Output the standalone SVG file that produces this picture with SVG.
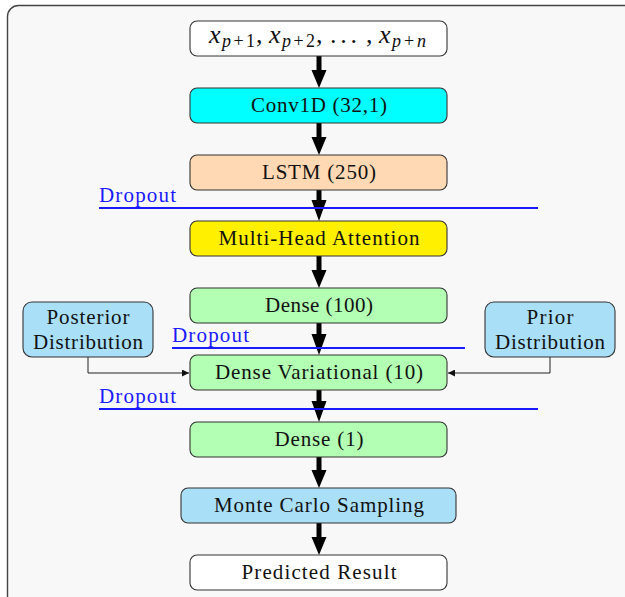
<svg xmlns="http://www.w3.org/2000/svg" width="625" height="597" viewBox="0 0 625 597">
<defs>
<style>
.node{stroke:#333;stroke-width:1.1}
.t{font-family:"Liberation Serif","Times New Roman",serif;font-size:21px;fill:#111;text-anchor:middle}
.m{font-family:"Liberation Serif","Times New Roman",serif;font-size:26px;fill:#111}
.mi{font-style:italic}
.s{font-size:18px}
.drop{font-family:"Liberation Serif","Times New Roman",serif;font-size:21px;fill:#1a1aff}
.dl{stroke:#1a1aff;stroke-width:1.8;fill:none}
.shaft{stroke:#000;stroke-width:5;fill:none}
.head{fill:#000}
.thin{stroke:#222;stroke-width:1;fill:none}
</style>
<marker id="sm" viewBox="0 0 10 10" refX="10" refY="5" markerWidth="8" markerHeight="7" markerUnits="userSpaceOnUse" orient="auto">
<path d="M0,0 L10,5 L0,10 Z" fill="#111"/>
</marker>
</defs>
<rect x="7.5" y="5.5" width="660" height="660" rx="11" fill="#f8f8f8" stroke="#444" stroke-width="1.4"/>

<g id="connectors">
<g id="arrows">
<path class="shaft" d="M319,56 V72"/><path class="head" d="M311.5,70 L326.5,70 L319,88 Z"/>
<path class="shaft" d="M319,123 V139"/><path class="head" d="M311.5,137 L326.5,137 L319,155 Z"/>
<path class="shaft" d="M319,190 V203"/><path class="head" d="M311.5,200 L326.5,200 L319,221 Z"/>
<path class="shaft" d="M319,256 V272"/><path class="head" d="M311.5,270 L326.5,270 L319,288 Z"/>
<path class="shaft" d="M319,323 V336"/><path class="head" d="M311.5,334 L326.5,334 L319,355 Z"/>
<path class="shaft" d="M319,390 V403"/><path class="head" d="M311.5,401 L326.5,401 L319,422 Z"/>
<path class="shaft" d="M319,457 V472"/><path class="head" d="M311.5,470 L326.5,470 L319,488 Z"/>
<path class="shaft" d="M319,523 V539"/><path class="head" d="M311.5,537 L326.5,537 L319,555 Z"/>
</g>
<path class="thin" d="M88,357 V373 H189" marker-end="url(#sm)"/>
<path class="thin" d="M550,357 V373 H448" marker-end="url(#sm)"/>
</g>

<g id="dropout1"><line class="dl" x1="99" y1="208" x2="538" y2="208"/><text class="drop" x="99" y="202" textLength="77">Dropout</text></g>
<g id="dropout2"><line class="dl" x1="172" y1="348" x2="465" y2="348"/><text class="drop" x="172" y="342" textLength="77">Dropout</text></g>
<g id="dropout3"><line class="dl" x1="99" y1="409" x2="538" y2="409"/><text class="drop" x="99" y="403" textLength="77">Dropout</text></g>

<g id="input">
<rect class="node" x="190" y="21" width="257" height="35" rx="7" fill="#ffffff"/>
<text class="m mi" x="209" y="43">x</text>
<text class="m s" x="222" y="47" textLength="33"><tspan class="mi">p</tspan>+1</text>
<text class="m" x="256" y="43">,</text>
<text class="m mi" x="269" y="43">x</text>
<text class="m s" x="282" y="47" textLength="33"><tspan class="mi">p</tspan>+2</text>
<text class="m" x="316" y="43">,</text>
<text class="m" x="330" y="43" textLength="27">...</text>
<text class="m" x="366" y="43">,</text>
<text class="m mi" x="379" y="43">x</text>
<text class="m s" x="392" y="47" textLength="34"><tspan class="mi">p</tspan>+<tspan class="mi">n</tspan></text>
</g>
<g id="conv1d">
<rect class="node" x="190" y="88" width="257" height="35" rx="7" fill="#00ffff"/>
<text class="t" x="319" y="112" textLength="136">Conv1D (32,1)</text>
</g>
<g id="lstm">
<rect class="node" x="190" y="155" width="257" height="35" rx="7" fill="#ffd9b3"/>
<text class="t" x="319" y="179" textLength="114">LSTM (250)</text>
</g>
<g id="mha">
<rect class="node" x="190" y="221" width="257" height="35" rx="7" fill="#fff000"/>
<text class="t" x="319" y="245" textLength="201">Multi-Head Attention</text>
</g>
<g id="dense100">
<rect class="node" x="190" y="288" width="257" height="35" rx="7" fill="#b3ffb3"/>
<text class="t" x="319" y="312" textLength="108">Dense (100)</text>
</g>
<g id="densevar">
<rect class="node" x="190" y="355" width="257" height="35" rx="7" fill="#b3ffb3"/>
<text class="t" x="319" y="379" textLength="208">Dense Variational (10)</text>
</g>
<g id="dense1">
<rect class="node" x="190" y="422" width="257" height="35" rx="7" fill="#b3ffb3"/>
<text class="t" x="319" y="446" textLength="89">Dense (1)</text>
</g>
<g id="montecarlo">
<rect class="node" x="181" y="488" width="275" height="35" rx="7" fill="#aadff8"/>
<text class="t" x="319" y="512" textLength="210">Monte Carlo Sampling</text>
</g>
<g id="predicted">
<rect class="node" x="190" y="555" width="257" height="35" rx="7" fill="#ffffff"/>
<text class="t" x="319" y="579" textLength="155">Predicted Result</text>
</g>
<g id="posterior">
<rect class="node" x="23" y="302" width="130" height="55" rx="9" fill="#aadff8"/>
<text class="t" x="88" y="324" textLength="83">Posterior</text>
<text class="t" x="88" y="349" textLength="110">Distribution</text>
</g>
<g id="prior">
<rect class="node" x="485" y="302" width="130" height="55" rx="9" fill="#aadff8"/>
<text class="t" x="550" y="324" textLength="47">Prior</text>
<text class="t" x="550" y="349" textLength="110">Distribution</text>
</g>
</svg>
